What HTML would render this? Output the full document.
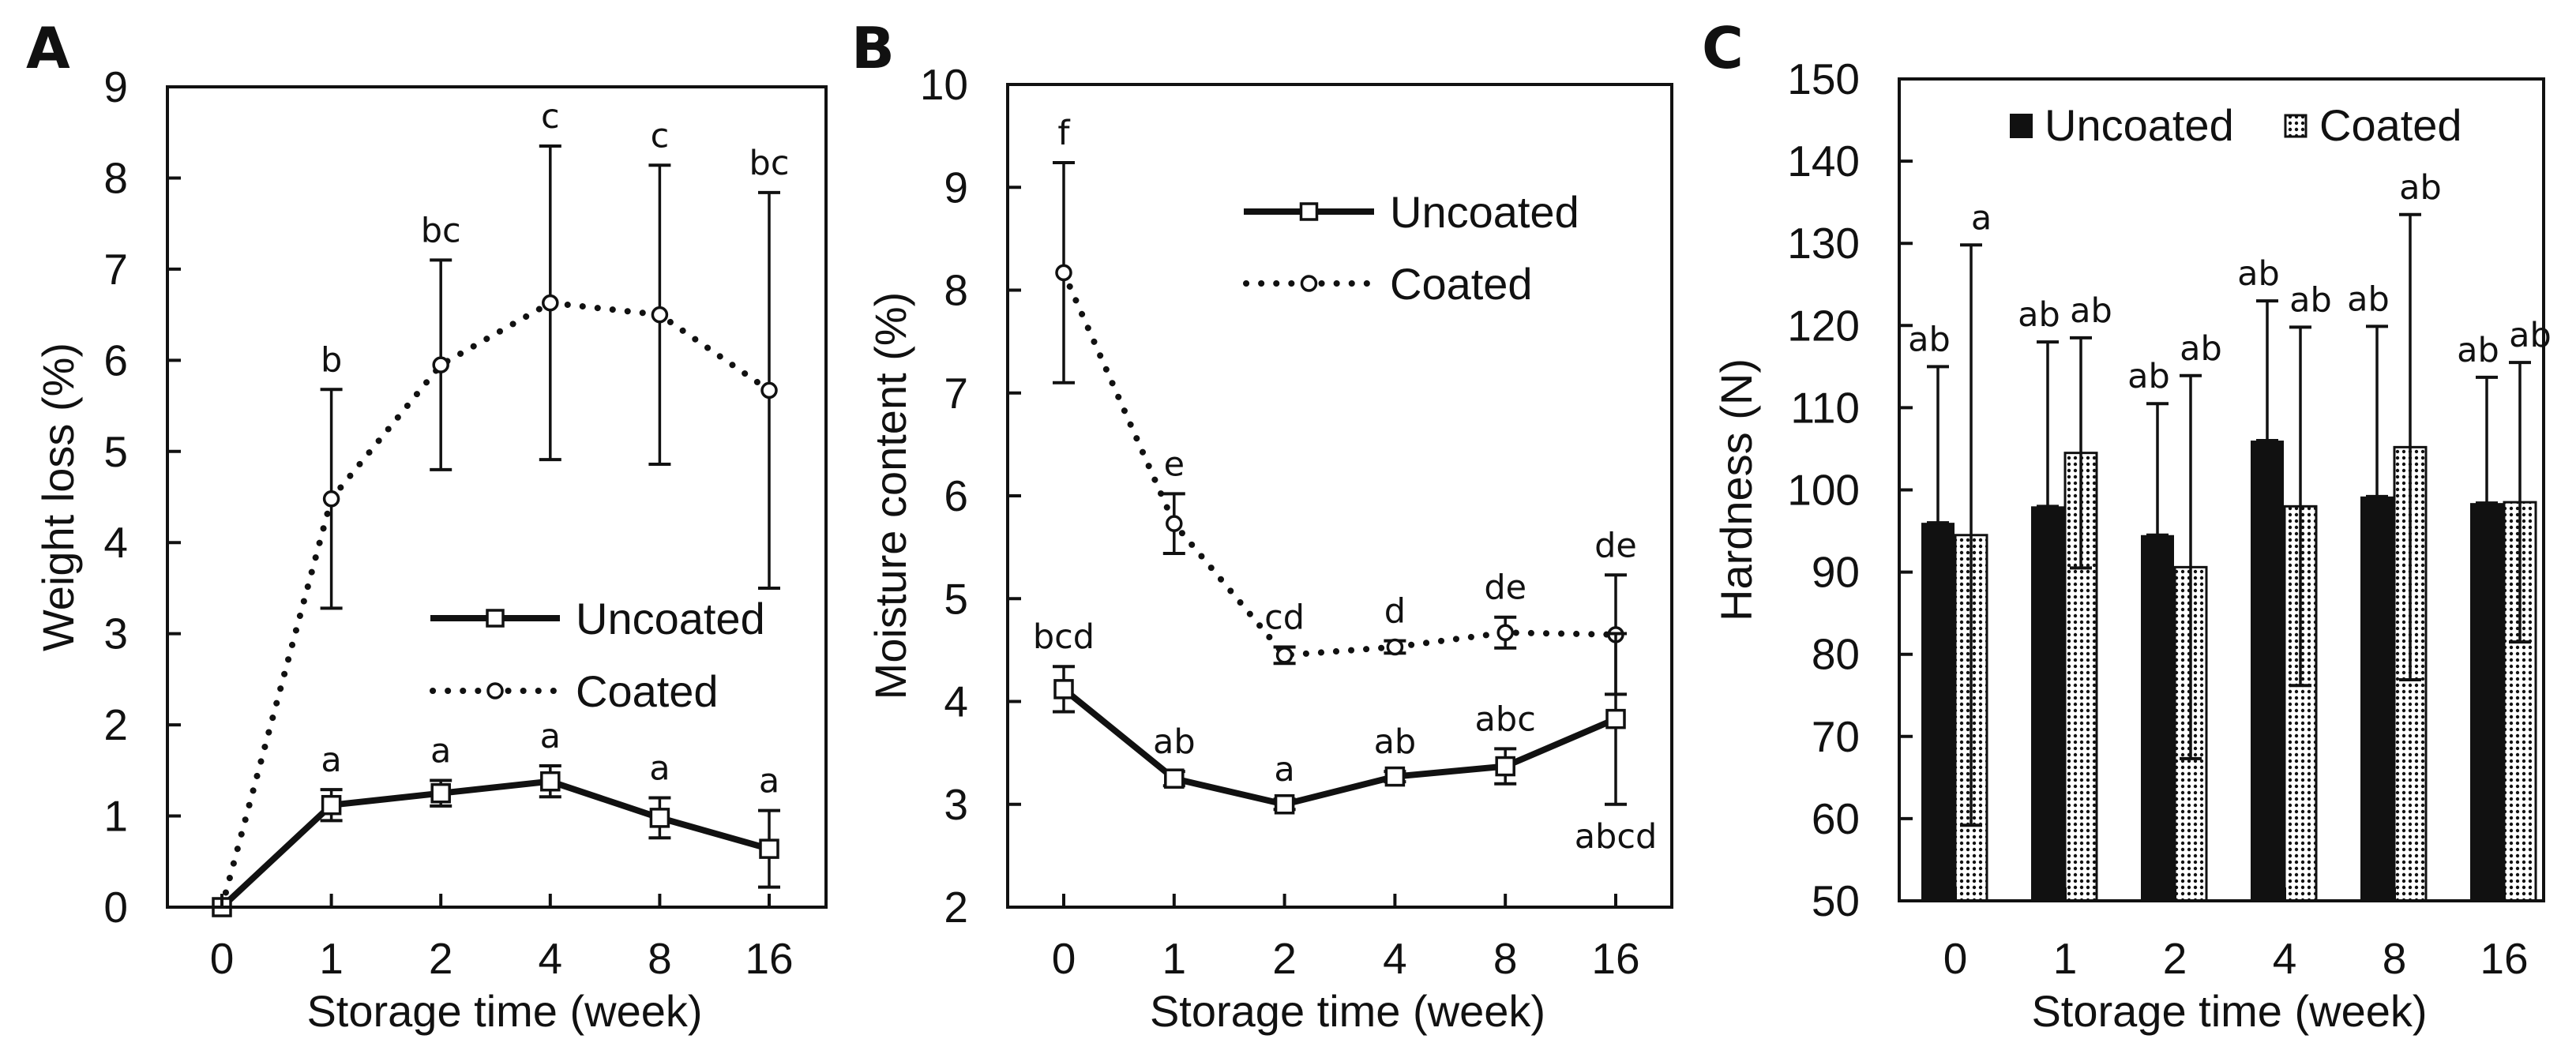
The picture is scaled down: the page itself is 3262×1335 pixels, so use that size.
<!DOCTYPE html>
<html><head><meta charset="utf-8"><style>
html,body{margin:0;padding:0;background:#fff;}
svg{display:block;font-family:"Liberation Sans",Arial,sans-serif;}
.t{font-size:55px;fill:#111;}
.g{font-size:56px;fill:#111;}
.l{font-size:43px;fill:#111;font-family:"DejaVu Sans","Liberation Sans",sans-serif;}
</style></head><body>
<svg id="fig" width="3262" height="1335" viewBox="0 0 3262 1335" xmlns="http://www.w3.org/2000/svg">
<defs>
<pattern id="dots" width="8" height="8" patternUnits="userSpaceOnUse">
<rect width="8" height="8" fill="#fff"/><circle cx="4" cy="4" r="2.2" fill="#111"/>
</pattern>
</defs>
</svg>
<script>
const cats=["0","1","2","4","8","16"];
// Panel A
const aUnc=[0,1.12,1.25,1.38,0.98,0.64];
const aUncErr=[0,0.17,0.14,0.17,0.22,0.42];
const aCoat=[0,4.48,5.95,6.63,6.5,5.67];
const aCoatErr=[0,1.2,1.15,1.72,1.64,2.17];
const aUncLab=["","a","a","a","a","a"];
const aCoatLab=["","b","bc","c","c","bc"];
const aTicks=[0,1,2,3,4,5,6,7,8,9];
// Panel B
const bUnc=[4.12,3.25,3.0,3.27,3.37,3.83];
const bUncErr=[0.22,0.07,0.05,0.05,0.17,0.83];
const bCoat=[8.17,5.73,4.45,4.53,4.67,4.65];
const bCoatErr=[1.07,0.29,0.08,0.06,0.15,0.58];
const bUncLab=["bcd","ab","a","ab","abc","abcd"];
const bCoatLab=["f","e","cd","d","de","de"];
const bTicks=[2,3,4,5,6,7,8,9,10];
// Panel C
const cUnc=[96,98,94.5,106,99.2,98.4];
const cUncErr=[19,20,16,17,20.7,15.3];
const cCoat=[94.5,104.5,90.6,98,105.2,98.5];
const cCoatErr=[35.3,14,23.3,21.8,28.3,17];
const cUncLab=["ab","ab","ab","ab","ab","ab"];
const cCoatLab=["a","ab","ab","ab","ab","ab"];
const cTicks=[50,60,70,80,90,100,110,120,130,140,150];

const svg=document.getElementById('fig');
const NS="http://www.w3.org/2000/svg";
function el(tag,attrs,parent,text){const e=document.createElementNS(NS,tag);for(const k in attrs)e.setAttribute(k,attrs[k]);if(text!==undefined)e.textContent=text;(parent||svg).appendChild(e);return e;}

function axes(g,P,ticks,title,ytitle,ytitleX){
  const box=el('rect',{x:P.l,y:P.t,width:P.r-P.l,height:P.b-P.t,fill:'none',stroke:'#111','stroke-width':4},g);
  
  
  ticks.forEach(v=>{
    const y=P.y(v);
    const tk=el('line',{x1:P.l,x2:P.l+17,y1:y,y2:y,stroke:'#111','stroke-width':4},g);
    
    
    const tl=el('text',{x:P.l-50,y:y+19,'text-anchor':'end',class:'t'},g,String(v));
    
    
  });
  cats.forEach((c,i)=>{
    const x=P.x(i);
    const tk=el('line',{x1:x,x2:x,y1:P.b,y2:P.b-17,stroke:'#111','stroke-width':4},g);
    
    
    const tl=el('text',{x:x,y:1233,'text-anchor':'middle',class:'t'},g,c);
    
    
  });
  const xt=el('text',{x:(P.l+P.r)/2+10,y:1300,'text-anchor':'middle',class:'g'},g,title);
  
  
  const cy=(P.t+P.b)/2;
  const yt=el('text',{x:ytitleX,y:cy,'text-anchor':'middle',class:'g',transform:`rotate(-90 ${ytitleX} ${cy})`},g,ytitle);
  
  
}
function errbar(g,x,y1,y2,name){
  const e=el('g',{},g);
  
  
  el('line',{x1:x,x2:x,y1:y1,y2:y2,stroke:'#111','stroke-width':3.5},e);
  el('line',{x1:x-14,x2:x+14,y1:y1,y2:y1,stroke:'#111','stroke-width':4},e);
  el('line',{x1:x-14,x2:x+14,y1:y2,y2:y2,stroke:'#111','stroke-width':4},e);
}
function linePanel(name,P,unc,uncErr,coat,coatErr,uncLab,coatLab,belowLast){
  const g=el('g',{});
  
  
  const cp=coat.map((v,i)=>P.x(i)+','+P.y(v)).join(' ');
  const cl=el('polyline',{points:cp,fill:'none',stroke:'#111','stroke-width':8,'stroke-dasharray':'0.1 19','stroke-linecap':'round'},g);
  
  
  const up=unc.map((v,i)=>P.x(i)+','+P.y(v)).join(' ');
  const ul=el('polyline',{points:up,fill:'none',stroke:'#111','stroke-width':8},g);
  
  
  coat.forEach((v,i)=>{
    const x=P.x(i);
    if(coatErr[i]>0) errbar(g,x,P.y(v+coatErr[i]),P.y(v-coatErr[i]),'coated-error-bar');
    const m=el('circle',{cx:x,cy:P.y(v),r:9,fill:'#fff',stroke:'#111','stroke-width':3.5},g);
    
    
    if(coatLab[i]){const t=el('text',{x:x,y:P.y(v+coatErr[i])-23,'text-anchor':'middle',class:'l'},g,coatLab[i]);
    
    }
  });
  unc.forEach((v,i)=>{
    const x=P.x(i);
    if(uncErr[i]>0) errbar(g,x,P.y(v+uncErr[i]),P.y(v-uncErr[i]),'uncoated-error-bar');
    const m=el('rect',{x:x-11,y:P.y(v)-11,width:22,height:22,fill:'#fff',stroke:'#111','stroke-width':3.5},g);
    
    
    if(uncLab[i]){
      const below=belowLast&&i===unc.length-1;
      const ty=below?P.y(v-uncErr[i])+55:P.y(v+uncErr[i])-23;
      const t=el('text',{x:x,y:ty,'text-anchor':'middle',class:'l'},g,uncLab[i]);
      
      }
  });
  const L=P.leg;
  const lg=el('g',{},g);
  
  
  el('line',{x1:L.x1,x2:L.x2,y1:L.y1,y2:L.y1,stroke:'#111','stroke-width':8},lg);
  el('rect',{x:(L.x1+L.x2)/2-10,y:L.y1-10,width:20,height:20,fill:'#fff',stroke:'#111','stroke-width':3.5},lg);
  el('line',{x1:L.x1+3,x2:L.x2,y1:L.y2,y2:L.y2,stroke:'#111','stroke-width':8,'stroke-dasharray':'0.1 19','stroke-linecap':'round'},lg);
  el('circle',{cx:(L.x1+L.x2)/2,cy:L.y2,r:9,fill:'#fff',stroke:'#111','stroke-width':3.5},lg);
  el('text',{x:L.x2+20,y:L.y1+20,class:'g'},lg,'Uncoated');
  el('text',{x:L.x2+20,y:L.y2+20,class:'g'},lg,'Coated');
  return g;
}
function mkP(l,r,t,b,x0,dx,ymin,ymax){
  return {l,r,t,b,x:i=>x0+i*dx,y:v=>b-(v-ymin)/(ymax-ymin)*(b-t)};
}
// A
const PA=mkP(212,1046,110,1149,281,138.6,0,9);
PA.leg={x1:545,x2:709,y1:783,y2:875};
const gA=linePanel('panel-a-weight-loss',PA,aUnc,aUncErr,aCoat,aCoatErr,aUncLab,aCoatLab,false);
axes(gA,PA,aTicks,'Storage time (week)','Weight loss (%)',93);
// B
const PB=mkP(1276,2117,107,1149,1347,139.8,2,10);
PB.leg={x1:1575,x2:1740,y1:268,y2:359};
const gB=linePanel('panel-b-moisture',PB,bUnc,bUncErr,bCoat,bCoatErr,bUncLab,bCoatLab,true);
axes(gB,PB,bTicks,'Storage time (week)','Moisture content (%)',1147);
// C
const PC=mkP(2405,3221,100,1141,2476,139,50,150);
const gC=el('g',{});


const bw=42;
cats.forEach((c,i)=>{
  const xc=PC.x(i);
  const yu=PC.y(cUnc[i]);
  const bu=el('rect',{x:xc-bw-1,y:yu,width:bw,height:PC.b-yu,fill:'#111'},gC);
  
  
  errbar(gC,xc-bw/2-1,PC.y(cUnc[i]+cUncErr[i]),yu,'uncoated-error-bar');
  const yc=PC.y(cCoat[i]);
  const bc=el('rect',{x:xc,y:yc,width:bw-2,height:PC.b-yc,fill:'url(#dots)',stroke:'#111','stroke-width':3},gC);
  
  
  errbar(gC,xc+bw/2-1,PC.y(cCoat[i]+cCoatErr[i]),PC.y(cCoat[i]-cCoatErr[i]),'coated-error-bar');
  const t1=el('text',{x:xc-bw/2-12,y:PC.y(cUnc[i]+cUncErr[i])-20,'text-anchor':'middle',class:'l'},gC,cUncLab[i]);
  
  
  const t2=el('text',{x:xc+bw/2+12,y:PC.y(cCoat[i]+cCoatErr[i])-20,'text-anchor':'middle',class:'l'},gC,cCoatLab[i]);
  
  
});
axes(gC,PC,cTicks,'Storage time (week)','Hardness (N)',2218);
const lc=el('g',{},gC);


el('rect',{x:2545,y:144,width:29,height:31,fill:'#111'},lc);
el('text',{x:2589,y:178,class:'g'},lc,'Uncoated');
el('rect',{x:2894,y:146,width:26,height:27,fill:'url(#dots)',stroke:'#111','stroke-width':3},lc);
el('text',{x:2937,y:178,class:'g'},lc,'Coated');
[['A',33,86],['B',1078,86],['C',2155,86]].forEach(([s,x,y])=>{
  const t=el('text',{x:x,y:y,style:'font-size:72px;font-weight:900;font-family:"DejaVu Sans","Liberation Sans",sans-serif;fill:#111'},svg,s);
  
  
});
</script>
</body></html>
